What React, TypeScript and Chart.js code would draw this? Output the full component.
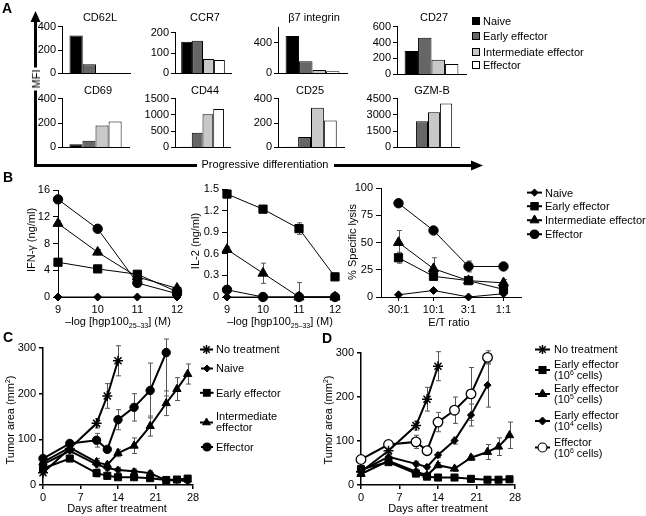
import React, { useEffect, useRef } from 'react';
import { Chart, registerables } from 'chart.js';

Chart.register(...registerables);

const FONT = "'Liberation Sans', Arial, Helvetica, sans-serif";
Chart.defaults.font.family = FONT;
Chart.defaults.font.size = 11;
Chart.defaults.color = '#000';

// ---------------- Panel A data ----------------
const stages = ['Naive', 'Early effector', 'Intermediate effector', 'Effector'];
const stageColors = ['#000000', '#666666', '#c8c8c8', '#ffffff'];
const markerNames = ['CD62L', 'CCR7', 'β7 integrin', 'CD27', 'CD69', 'CD44', 'CD25', 'GZM-B'];
const cd62l = [325, 78, 5, 3];
const ccr7 = [155, 160, 70, 66];
const b7int = [490, 160, 45, 28];
const cd27 = [295, 460, 185, 130];
const cd69 = [25, 55, 180, 212];
const cd44 = [20, 450, 1020, 1180];
const cd25 = [5, 85, 325, 220];
const gzmb = [0, 2400, 3250, 4050];
const mfiByMarker = [cd62l, ccr7, b7int, cd27, cd69, cd44, cd25, gzmb];
const axisMaxA = [400, 200, 600, 600, 400, 1500, 400, 4500];
const axisStepA = [200, 50, 200, 200, 200, 500, 200, 1500];

// ---------------- Panel B data ----------------
const peptideLogs = [9, 10, 11, 12];
const ifnNaive = [0, 0, 0, 0];
const ifnEarly = [5.2, 4.2, 3.4, 0.8];
const ifnInter = [11, 6.7, 3.0, 1.3];
const ifnEff = [14.6, 10.2, 2.1, 0.5];
const ifnEarlyErr = [0.3, 0.3, 0.3, 0.3];
const ifnInterErr = [0.4, 0.4, 0.3, 0.3];
const ifnEffErr = [0.4, 0.4, 0.3, 0.2];

const il2Naive = [0, 0, 0, 0];
const il2Early = [1.43, 1.22, 0.95, 0.28];
const il2Inter = [0.66, 0.33, 0, 0];
const il2Eff = [0.1, 0, 0, 0];
const il2EarlyErr = [0.03, 0.04, 0.08, 0.02];
const il2InterErr = [0.04, 0.14, 0.2, 0];

const etRatios = ['30:1', '10:1', '3:1', '1:1'];
const lysNaive = [2, 6, 0, 3];
const lysEarly = [36, 19, 15, 7];
const lysInter = [50, 26, 15, 13];
const lysEff = [86, 61, 28, 28];
const lysEarlyErr = [5, 3, 2, 2];
const lysInterErr = [11, 10, 3, 3];
const lysEffErr = [0, 0, 5, 0];

// ---------------- Panel C data ----------------
const days = [0, 5, 10, 12, 14, 17, 20, 23, 25, 27];
const cNoTx = [27, 80, 135, 195, 272, null, null, null, null, null];
const cNaive = [45, 75, 45, 37, 33, 30, 26, 10, 11, 8];
const cEarly = [36, 58, 26, 20, 17, 17, 15, 11, 12, 14];
const cInter = [50, 82, 50, 44, 70, 86, 129, 179, 210, 243];
const cEff = [58, 91, 98, 78, 143, 170, 207, 290, null, null];
const cNoTxErr = [3, 5, 10, 27, 33, 0, 0, 0, 0, 0];
const cNaiveErr = [4, 5, 8, 6, 6, 5, 5, 3, 3, 3];
const cEarlyErr = [4, 5, 8, 5, 4, 4, 4, 3, 3, 3];
const cInterErr = [4, 6, 8, 6, 8, 17, 22, 27, 25, 22];
const cEffErr = [5, 6, 15, 6, 22, 30, 60, 95, 0, 0];

// ---------------- Panel D data ----------------
const dNoTx = [30, 78, 135, 195, 270, null, null, null, null, null];
const dEarly6 = [36, 52, 26, 19, 17, 17, 14, 12, 12, 13];
const dEarly5 = [25, 55, 30, 22, 45, 37, 62, 75, 87, 113];
const dEarly4 = [32, 64, 48, 41, 68, 101, 159, 227, null, null];
const dEff6 = [58, 92, 98, 78, 143, 170, 207, 290, null, null];
const dNoTxErr = [3, 5, 10, 27, 33, 0, 0, 0, 0, 0];
const dEarly6Err = [4, 5, 6, 4, 3, 3, 3, 3, 3, 3];
const dEarly5Err = [4, 5, 6, 5, 6, 6, 6, 17, 20, 30];
const dEarly4Err = [4, 6, 6, 5, 6, 8, 25, 50, 0, 0];
const dEff6Err = [5, 6, 15, 6, 22, 30, 60, 15, 0, 0];

// ---------------- layout (positions only) ----------------
const aPlots = [
  [62, 26, 130, 78], [175, 32, 231, 78], [278, 27, 347, 78], [397, 26, 466, 79],
  [62, 98, 129, 152], [175, 98, 230, 152], [278, 98, 344, 152], [397, 98, 459, 152],
];
const aTitles = [
  [100, 17], [205, 17], [314, 17], [434, 17],
  [98, 90], [205, 90], [310, 90], [432, 90],
];

const fmt = (v: any) => String(Math.round(Number(v) * 100) / 100);

const errorBars = {
  id: 'errorBars',
  beforeDatasetsDraw(chart: any) {
    const { ctx, chartArea } = chart;
    ctx.save();
    ctx.strokeStyle = '#555';
    ctx.lineWidth = 1;
    chart.data.datasets.forEach((ds: any, i: number) => {
      if (!ds.errors) return;
      const meta = chart.getDatasetMeta(i);
      const ys = chart.scales[meta.yAxisID];
      meta.data.forEach((el: any, j: number) => {
        const raw = ds.data[j];
        const v = raw && typeof raw === 'object' ? raw.y : raw;
        const e = ds.errors[j];
        if (v == null || !e) return;
        const top = Math.max(ys.getPixelForValue(v + e), chartArea.top - 9);
        const bot = ys.getPixelForValue(Math.max(v - e, ys.min));
        const x = Math.round(el.x) + 0.5;
        ctx.beginPath();
        ctx.moveTo(x, top); ctx.lineTo(x, bot);
        ctx.moveTo(x - 2.5, top); ctx.lineTo(x + 2.5, top);
        ctx.moveTo(x - 2.5, bot); ctx.lineTo(x + 2.5, bot);
        ctx.stroke();
      });
    });
    ctx.restore();
  },
};

type M = { l: number; t: number; r: number; b: number };

function ChartBox({ rect, m, build }: { rect: number[]; m: M; build: () => any }) {
  const ref = useRef<HTMLCanvasElement>(null);
  const [x0, y0, x1, y1] = rect;
  const W = x1 - x0 + m.l + m.r;
  const H = y1 - y0 + m.t + m.b;
  useEffect(() => {
    const cfg = build();
    cfg.options.layout = { padding: { left: 0, top: m.t, right: m.r, bottom: 0 } };
    cfg.options.scales.x.afterFit = (s: any) => { s.height = m.b; };
    cfg.options.scales.y.afterFit = (s: any) => { s.width = m.l; };
    const c = new Chart(ref.current as HTMLCanvasElement, cfg);
    return () => c.destroy();
  }, []);
  return (
    <canvas
      ref={ref}
      width={W}
      height={H}
      style={{ position: 'absolute', left: x0 - m.l, top: y0 - m.t, width: W, height: H }}
    />
  );
}

const baseOpts = () => ({
  animation: false,
  responsive: false,
  events: [],
  plugins: { legend: { display: false }, tooltip: { enabled: false } },
});

function yAxis(max: number, step: number, lw = 1, tl = 4, pad = 3) {
  return {
    type: 'linear', min: 0, max,
    ticks: { stepSize: step, padding: pad, color: '#000', font: { size: 11 }, callback: fmt },
    grid: { display: true, drawOnChartArea: false, drawTicks: true, tickLength: tl, color: '#000', lineWidth: lw },
    border: { display: true, color: '#000', width: lw },
  };
}

function barConfig(idx: number) {
  const vals = mfiByMarker[idx];
  return {
    type: 'bar',
    data: {
      labels: [markerNames[idx]],
      datasets: stages.map((s, i) => ({
        label: s,
        data: [vals[i]],
        backgroundColor: stageColors[i],
        borderColor: '#000',
        borderWidth: 1,
        categoryPercentage: 0.78,
        barPercentage: 1,
      })),
    },
    options: {
      ...baseOpts(),
      scales: {
        x: { ticks: { display: false }, grid: { display: false }, border: { display: true, color: '#000', width: 1 } },
        y: yAxis(axisMaxA[idx], axisStepA[idx], 1, 4, 2),
      },
    },
  };
}

type St = { shape: string; r: number; open?: boolean; lw: number; pbw?: number };

function series(label: string, xs: any[], ys: any[], errs: number[] | null, st: St, useXY = true) {
  return {
    label,
    data: useXY ? xs.map((x, i) => ({ x, y: ys[i] })) : ys,
    errors: errs,
    borderColor: '#000',
    borderWidth: st.lw,
    pointStyle: st.shape,
    pointRadius: st.r,
    pointHoverRadius: st.r,
    pointBackgroundColor: st.open ? '#fff' : '#000',
    pointBorderColor: '#000',
    pointBorderWidth: st.pbw ?? 1,
    clip: false,
    tension: 0,
    spanGaps: false,
  };
}

// marker styles
const bDia: St = { shape: 'rectRot', r: 4, lw: 1 };
const bSq: St = { shape: 'rect', r: 5.8, lw: 1 };
const bTri: St = { shape: 'triangle', r: 5.8, lw: 1 };
const bCir: St = { shape: 'circle', r: 4.7, lw: 1 };
const cStar: St = { shape: 'star', r: 5, lw: 2, pbw: 1.5 };
const cDia: St = { shape: 'rectRot', r: 3.6, lw: 2 };
const cSq: St = { shape: 'rect', r: 5, lw: 2 };
const cTri: St = { shape: 'triangle', r: 4.8, lw: 2 };
const cCir: St = { shape: 'circle', r: 4.2, lw: 2 };
const cOpen: St = { shape: 'circle', r: 4.8, lw: 2, open: true, pbw: 1.3 };

function linearX(min: number, max: number, step: number, lw = 1) {
  return {
    type: 'linear', min, max,
    ticks: { stepSize: step, padding: 2, color: '#000', font: { size: 11 }, callback: fmt },
    grid: { display: true, drawOnChartArea: false, drawTicks: true, tickLength: 4, color: '#000', lineWidth: lw },
    border: { display: true, color: '#000', width: lw },
  };
}

function lineConfig(datasets: any[], x: any, y: any, labels?: string[]) {
  return {
    type: 'line',
    data: labels ? { labels, datasets } : { datasets },
    options: { ...baseOpts(), scales: { x, y } },
    plugins: [errorBars],
  };
}

const ifnConfig = () =>
  lineConfig(
    [
      series('Naive', peptideLogs, ifnNaive, null, bDia),
      series('Early effector', peptideLogs, ifnEarly, ifnEarlyErr, bSq),
      series('Intermediate effector', peptideLogs, ifnInter, ifnInterErr, bTri),
      series('Effector', peptideLogs, ifnEff, ifnEffErr, bCir),
    ],
    linearX(9, 12, 1),
    yAxis(16, 4, 1, 5, 3),
  );

const il2Config = () =>
  lineConfig(
    [
      series('Naive', peptideLogs, il2Naive, null, bDia),
      series('Early effector', peptideLogs, il2Early, il2EarlyErr, bSq),
      series('Intermediate effector', peptideLogs, il2Inter, il2InterErr, bTri),
      series('Effector', peptideLogs, il2Eff, null, bCir),
    ],
    linearX(9, 12, 1),
    yAxis(1.5, 0.3, 1, 5, 3),
  );

const lysisConfig = () =>
  lineConfig(
    [
      series('Naive', etRatios, lysNaive, null, bDia, false),
      series('Early effector', etRatios, lysEarly, lysEarlyErr, bSq, false),
      series('Intermediate effector', etRatios, lysInter, lysInterErr, bTri, false),
      series('Effector', etRatios, lysEff, lysEffErr, bCir, false),
    ],
    {
      type: 'category', offset: true,
      ticks: { padding: 2, color: '#000', font: { size: 11 } },
      grid: { display: true, drawOnChartArea: false, drawTicks: true, tickLength: 4, color: '#000', lineWidth: 1, offset: false },
      border: { display: true, color: '#000', width: 1 },
    },
    yAxis(100, 25, 1, 5, 3),
    etRatios,
  );

const cConfig = () =>
  lineConfig(
    [
      series('No treatment', days, cNoTx, cNoTxErr, cStar),
      series('Naive', days, cNaive, cNaiveErr, cDia),
      series('Early effector', days, cEarly, cEarlyErr, cSq),
      series('Intermediate effector', days, cInter, cInterErr, cTri),
      series('Effector', days, cEff, cEffErr, cCir),
    ],
    linearX(0, 28, 7, 1.5),
    yAxis(300, 100, 1.5, 4, 3),
  );

const dConfig = () =>
  lineConfig(
    [
      series('No treatment', days, dNoTx, dNoTxErr, cStar),
      series('Early effector (10^6 cells)', days, dEarly6, dEarly6Err, cSq),
      series('Early effector (10^5 cells)', days, dEarly5, dEarly5Err, cTri),
      series('Early effector (10^4 cells)', days, dEarly4, dEarly4Err, cDia),
      series('Effector (10^6 cells)', days, dEff6, dEff6Err, cOpen),
    ],
    linearX(0, 28, 7, 1.5),
    yAxis(300, 100, 1.5, 4, 3),
  );

// ---------------- text & symbol helpers ----------------
function T({ x, y, children, size = 11, align = 'left', rotate = 0, bold = false, bg }: any) {
  const tx = align === 'center' ? '-50%' : align === 'right' ? '-100%' : '0';
  return (
    <div
      style={{
        position: 'absolute', left: x, top: y,
        transform: `translate(${tx},-50%) rotate(${rotate}deg)`,
        whiteSpace: 'nowrap', fontSize: size, lineHeight: 1.1,
        fontWeight: bold ? 'bold' : 'normal', background: bg, padding: bg ? '1px 2px' : 0,
      }}
    >
      {children}
    </div>
  );
}

function Sym({ x, y, shape, r, open = false, line = 0, lw = 1 }: any) {
  const w = Math.max(line, 2 * r + 4);
  const h = 2 * r + 4;
  const cx = w / 2;
  const cy = h / 2;
  const fill = open ? '#fff' : '#000';
  let el: any = null;
  if (shape === 'circle') el = <circle cx={cx} cy={cy} r={r} fill={fill} stroke="#000" strokeWidth={1.2} />;
  else if (shape === 'rect') {
    const s = r * Math.SQRT1_2;
    el = <rect x={cx - s} y={cy - s} width={2 * s} height={2 * s} fill={fill} stroke="#000" />;
  } else if (shape === 'triangle') {
    const pts = [[cx, cy - r], [cx + r * 0.866, cy + r / 2], [cx - r * 0.866, cy + r / 2]];
    el = <polygon points={pts.map((p) => p.join(',')).join(' ')} fill={fill} stroke="#000" />;
  } else if (shape === 'rectRot') {
    const pts = [[cx, cy - r], [cx + r, cy], [cx, cy + r], [cx - r, cy]];
    el = <polygon points={pts.map((p) => p.join(',')).join(' ')} fill={fill} stroke="#000" />;
  } else if (shape === 'star') {
    const d = r * 0.707;
    el = (
      <g stroke="#000" strokeWidth={1.5}>
        <line x1={cx} y1={cy - r} x2={cx} y2={cy + r} />
        <line x1={cx - r} y1={cy} x2={cx + r} y2={cy} />
        <line x1={cx - d} y1={cy - d} x2={cx + d} y2={cy + d} />
        <line x1={cx - d} y1={cy + d} x2={cx + d} y2={cy - d} />
      </g>
    );
  }
  return (
    <svg style={{ position: 'absolute', left: x - w / 2, top: y - h / 2, overflow: 'visible' }} width={w} height={h}>
      {line ? <line x1={0} y1={cy} x2={w} y2={cy} stroke="#000" strokeWidth={lw} /> : null}
      {el}
    </svg>
  );
}

const mA: M = { l: 40, t: 8, r: 6, b: 4 };
const mB: M = { l: 45, t: 12, r: 14, b: 24 };
const mC: M = { l: 38, t: 12, r: 14, b: 22 };

const bLegend = [
  ['Naive', bDia], ['Early effector', bSq], ['Intermediate effector', bTri], ['Effector', bCir],
] as any[];
const bLegendY = [193, 206, 220, 234];

export default function App() {
  return (
    <div
      style={{
        position: 'absolute', left: 0, top: 0, width: 646, height: 516, background: '#fff',
        fontFamily: FONT, color: '#000', overflow: 'hidden',
      }}
    >
      {/* Panel A bar charts */}
      {aPlots.map((r, i) => (
        <ChartBox key={'a' + i} rect={r} m={mA} build={() => barConfig(i)} />
      ))}
      {/* Panel B */}
      <ChartBox rect={[58, 190, 177, 297]} m={mB} build={ifnConfig} />
      <ChartBox rect={[227, 189, 335, 297]} m={mB} build={il2Config} />
      <ChartBox rect={[381, 188, 521, 297]} m={mB} build={lysisConfig} />
      {/* Panel C, D */}
      <ChartBox rect={[43, 348, 193, 485]} m={mC} build={cConfig} />
      <ChartBox rect={[361, 353, 515, 485]} m={mC} build={dConfig} />

      {/* Arrows of panel A */}
      <svg style={{ position: 'absolute', left: 0, top: 0 }} width={646} height={516}>
        <line x1={35.5} y1={166.5} x2={35.5} y2={20} stroke="#000" strokeWidth={3} />
        <polygon points="30.5,22 40.5,22 35.5,11" fill="#000" />
        <line x1={34} y1={165.5} x2={197} y2={165.5} stroke="#000" strokeWidth={3} />
        <line x1={334} y1={165.5} x2={472} y2={165.5} stroke="#000" strokeWidth={3} />
        <polygon points="471,160.5 471,170.5 483,165.5" fill="#000" />
      </svg>

      {/* Panel letters */}
      <T x={2} y={9} size={14} bold>A</T>
      <T x={3} y={178} size={14} bold>B</T>
      <T x={3} y={338} size={14} bold>C</T>
      <T x={322} y={339} size={14} bold>D</T>

      {/* Panel A texts */}
      {markerNames.map((n, i) => (
        <T key={'t' + i} x={aTitles[i][0]} y={aTitles[i][1]} align="center" size={11}>{n}</T>
      ))}
      <T x={35.5} y={79} align="center" rotate={-90} bg="#fff" size={11}>MFI</T>
      <T x={265} y={164} align="center" size={11}>Progressive differentiation</T>
      {stages.map((s, i) => (
        <React.Fragment key={'la' + i}>
          <div
            style={{
              position: 'absolute', left: 472, top: [21, 35.5, 51.5, 65][i] - 4, width: 6, height: 6,
              border: '1px solid #000', background: stageColors[i],
            }}
          />
          <T x={483} y={[21, 35.5, 51.5, 65][i]} size={11}>{s}</T>
        </React.Fragment>
      ))}

      {/* Panel B texts */}
      <T x={31} y={240} align="center" rotate={-90} size={11}>IFN-γ (ng/ml)</T>
      <T x={195} y={241} align="center" rotate={-90} size={11}>IL-2 (ng/ml)</T>
      <T x={352} y={242} align="center" rotate={-90} size={11}>% Specific lysis</T>
      <T x={118} y={322} align="center" size={11}>
        –log [hgp100<sub style={{ fontSize: 7 }}>25–33</sub>] (M)
      </T>
      <T x={280} y={322} align="center" size={11}>
        –log [hgp100<sub style={{ fontSize: 7 }}>25–33</sub>] (M)
      </T>
      <T x={449} y={322} align="center" size={11}>E/T ratio</T>
      {bLegend.map(([s, st], i) => (
        <React.Fragment key={'lb' + i}>
          <Sym x={534.5} y={bLegendY[i]} shape={st.shape} r={st.r * 0.9} line={15} lw={2} />
          <T x={545} y={bLegendY[i]} size={11}>{s}</T>
        </React.Fragment>
      ))}

      {/* Panel C texts */}
      <T x={10} y={420} align="center" rotate={-90} size={11}>Tumor area (mm<sup style={{ fontSize: 7 }}>2</sup>)</T>
      <T x={117} y={508} align="center" size={11}>Days after treatment</T>
      <Sym x={206.5} y={349} shape="star" r={4.5} line={12} lw={2} />
      <T x={216} y={349} size={11}>No treatment</T>
      <Sym x={206.5} y={368} shape="rectRot" r={3.5} line={12} lw={2} />
      <T x={216} y={368} size={11}>Naive</T>
      <Sym x={206.5} y={393} shape="rect" r={4.8} line={12} lw={2} />
      <T x={216} y={393} size={11}>Early effector</T>
      <Sym x={206.5} y={422} shape="triangle" r={4.5} line={12} lw={2} />
      <T x={216} y={416} size={11}>Intermediate</T>
      <T x={216} y={427} size={11}>effector</T>
      <Sym x={206.5} y={447} shape="circle" r={4} line={12} lw={2} />
      <T x={216} y={447} size={11}>Effector</T>

      {/* Panel D texts */}
      <T x={328} y={420} align="center" rotate={-90} size={11}>Tumor area (mm<sup style={{ fontSize: 7 }}>2</sup>)</T>
      <T x={438} y={508} align="center" size={11}>Days after treatment</T>
      <Sym x={542.5} y={349} shape="star" r={4.5} line={15} lw={2} />
      <T x={554} y={349} size={11}>No treatment</T>
      <Sym x={542.5} y={370} shape="rect" r={5} line={15} lw={2} />
      <T x={554} y={364} size={11}>Early effector</T>
      <T x={554} y={375} size={11}>(10<sup style={{ fontSize: 7 }}>6</sup> cells)</T>
      <Sym x={542.5} y={394} shape="triangle" r={5} line={15} lw={2} />
      <T x={554} y={388} size={11}>Early effector</T>
      <T x={554} y={399} size={11}>(10<sup style={{ fontSize: 7 }}>5</sup> cells)</T>
      <Sym x={542.5} y={421} shape="rectRot" r={4} line={15} lw={2} />
      <T x={554} y={415} size={11}>Early effector</T>
      <T x={554} y={426} size={11}>(10<sup style={{ fontSize: 7 }}>4</sup> cells)</T>
      <Sym x={542.5} y={447} shape="circle" r={4.5} open line={15} lw={2} />
      <T x={554} y={442} size={11}>Effector</T>
      <T x={554} y={453} size={11}>(10<sup style={{ fontSize: 7 }}>6</sup> cells)</T>
    </div>
  );
}
